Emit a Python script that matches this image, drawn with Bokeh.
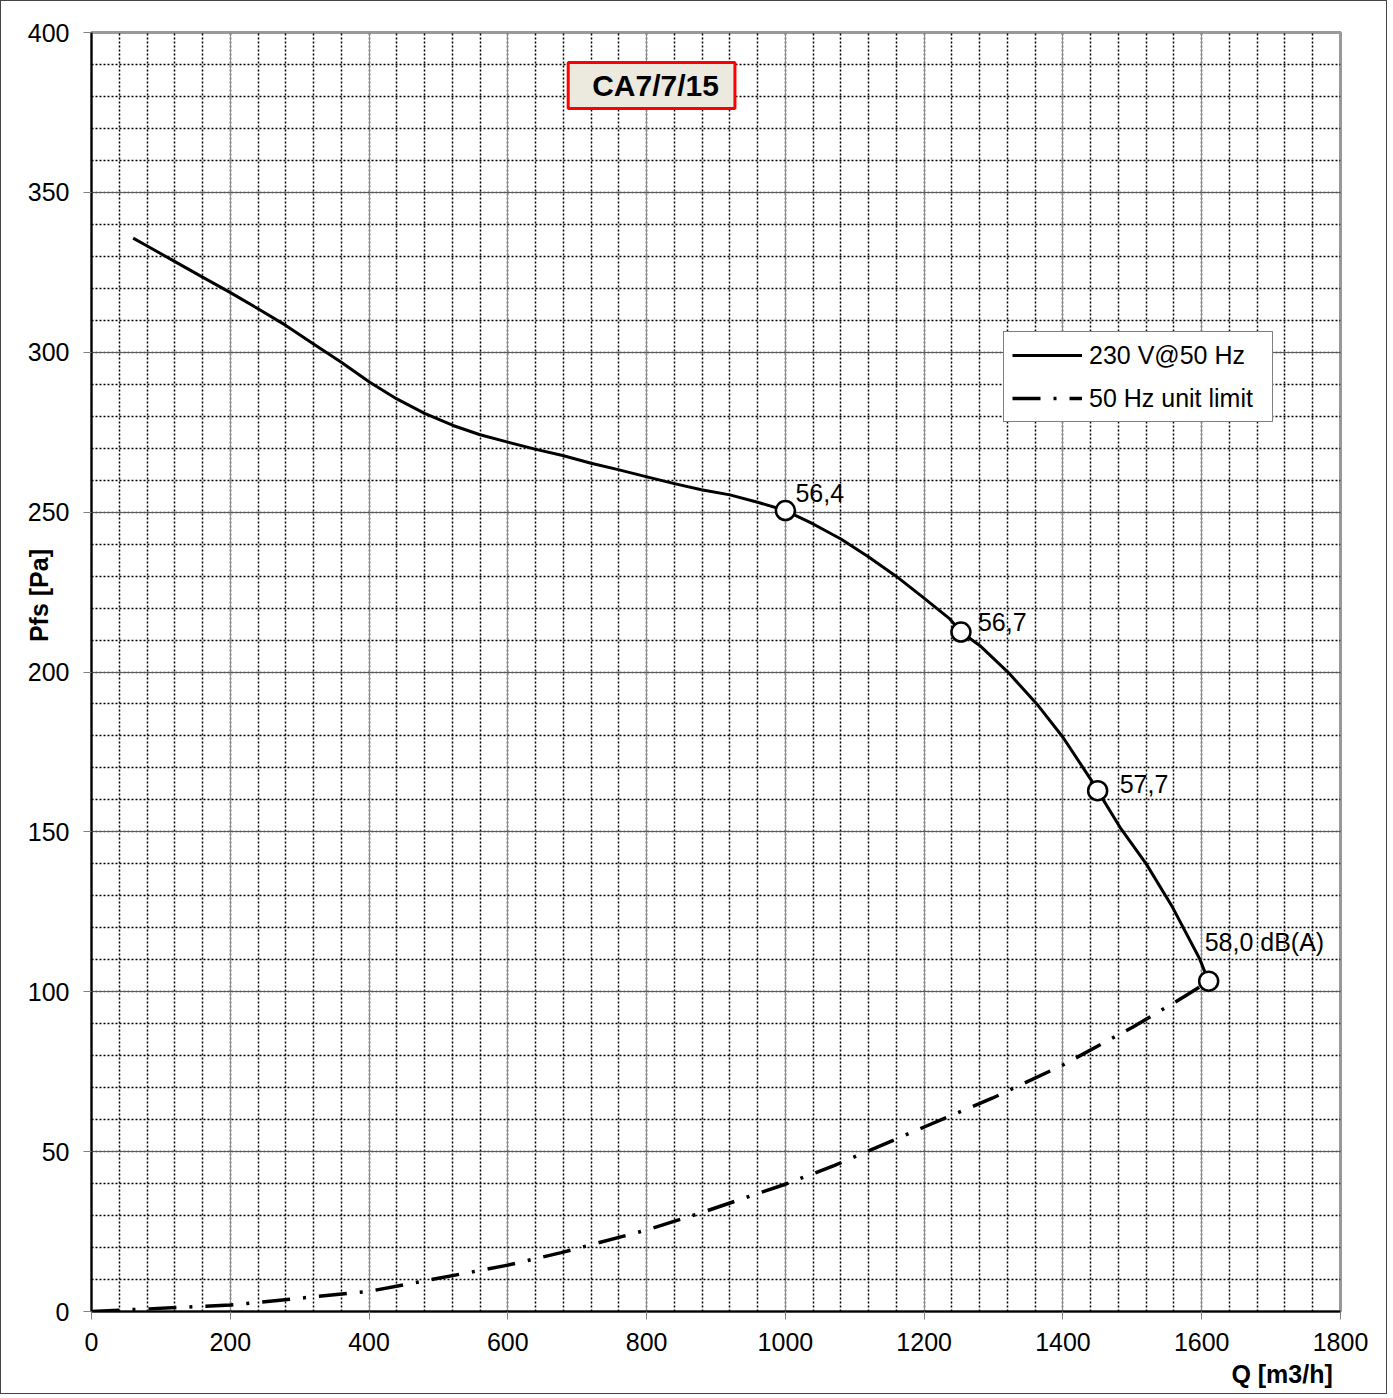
from bokeh.plotting import figure
from bokeh.models import (ColumnDataSource, SingleIntervalTicker, Label, Legend,
                          LegendItem, Range1d)
from bokeh.core.properties import value
from bokeh.embed import file_html
from bokeh.resources import INLINE

# ---- data -------------------------------------------------------------
curve_q = [60, 79, 119, 160, 199, 240, 280, 320, 360, 401, 440, 480, 521,
           560, 600, 639, 679, 720, 759, 799, 840, 879, 920, 960, 1000,
           1040, 1080, 1119, 1160, 1198, 1237, 1253, 1280, 1321, 1362, 1400,
           1441, 1450, 1482, 1520, 1558, 1597, 1610]
curve_p = [335.7, 333.4, 328.5, 323.5, 318.8, 313.6, 308.4, 302.6, 296.9,
           290.6, 285.4, 280.9, 277.1, 274.2, 271.9, 269.7, 267.7, 265.3,
           263.3, 261.1, 258.9, 257.0, 255.4, 253.1, 250.5, 246.3, 241.6,
           236.1, 229.9, 223.4, 216.6, 212.5, 208.3, 199.9, 190.1, 179.6,
           166.1, 162.9, 151.5, 140.0, 126.4, 110.3, 103.3]

limit_q = [0, 200, 400, 600, 677, 800, 879, 960, 1000, 1071, 1200, 1298,
           1400, 1501, 1575, 1610]
limit_p = [0, 2.0, 6.3, 14.5, 18.4, 25.5, 30.9, 36.9, 39.8, 45.7, 57.7, 66.7,
           77.1, 89, 98.5, 103.3]

point_q = [1000, 1253, 1450, 1610]
point_p = [250.5, 212.5, 162.9, 103.3]
point_labels = ["56,4", "56,7", "57,7", "58,0 dB(A)"]

series_names = ["230 V@50 Hz", "50 Hz unit limit"]
title_text = "CA7/7/15"
x_title = "Q [m3/h]"
y_title = "Pfs [Pa]"

FONT = "Liberation Sans"
NBSP = "\u00a0"

# ---- figure -----------------------------------------------------------
LEFT, TOP, RIGHT, BOTTOM = 90, 31, 46, 82
FW, FH = 1249, 1279

p = figure(frame_width=FW, frame_height=FH,
           min_border_left=LEFT, min_border_top=TOP,
           min_border_right=RIGHT, min_border_bottom=BOTTOM,
           x_range=Range1d(0, 1800), y_range=Range1d(0, 400),
           output_backend="svg", toolbar_location=None)
p.styles = {"border": "1px solid #444444"}
p.background_fill_color = "white"
p.border_fill_color = "white"
p.outline_line_color = "#999999"
p.outline_line_width = 3

xt = SingleIntervalTicker(interval=200, num_minor_ticks=5)
yt = SingleIntervalTicker(interval=50, num_minor_ticks=5)
p.xaxis.ticker = xt
p.yaxis.ticker = yt
p.xgrid.ticker = xt
p.ygrid.ticker = yt

for ax in (p.xaxis, p.yaxis):
    ax.axis_line_color = "black"
    ax.axis_line_width = 2
    ax.major_tick_line_color = "#808080"
    ax.major_tick_out = 8
    ax.major_tick_in = 0
    ax.minor_tick_line_color = None
    ax.major_label_text_font = FONT
    ax.major_label_text_font_size = "25px"
    ax.major_label_text_color = "black"
    ax.axis_label_text_font = FONT
    ax.axis_label_text_font_size = "25px"
    ax.axis_label_text_font_style = "bold"
    ax.axis_label_text_color = "black"
p.yaxis.major_label_standoff = 14
p.xaxis.major_label_standoff = 13

# axis titles (leading non-breaking spaces shift the centred title into place)
xa = p.xaxis[0]
ya = p.yaxis[0]
xa.axis_label = NBSP * 163 + x_title
xa.axis_label_standoff = 6
ya.axis_label = NBSP * 22 + y_title
ya.axis_label_standoff = -28

p.xgrid.grid_line_color = "#8c8c8c"
p.ygrid.grid_line_color = "#5a5a5a"
for g in (p.xgrid, p.ygrid):
    g.grid_line_width = 1
    g.minor_grid_line_color = "black"
    g.minor_grid_line_width = 1.5
    g.minor_grid_line_dash = "2 2"

# ---- series -----------------------------------------------------------
r_limit = p.line(limit_q, limit_p, line_color="black", line_width=3.5,
                 line_dash="28 13 3 13")
r_curve = p.line(curve_q, curve_p, line_color="black", line_width=3,
                 line_join="round")
p.scatter(point_q, point_p, marker="circle", size=19, fill_color="white",
          line_color="black", line_width=2.5)

lab_src = ColumnDataSource(dict(q=point_q, p=point_p, t=point_labels,
                                dx=[10, 17, 22, -4], dy=[-18, -10, -7, -39]))
p.text(x="q", y="p", text="t", x_offset="dx", y_offset="dy", source=lab_src,
       text_font=value(FONT), text_font_size=value("25px"),
       text_color="black", text_align="left", text_baseline="alphabetic")

legend = Legend(items=[LegendItem(label=series_names[0], renderers=[r_curve]),
                       LegendItem(label=series_names[1], renderers=[r_limit])],
                location=(912, 889))
legend.label_text_font = FONT
legend.label_text_font_size = "25px"
legend.label_text_color = "black"
legend.label_standoff = 7
legend.label_width = 175
legend.glyph_width = 70
legend.glyph_height = 30
legend.label_height = 30
legend.spacing = 13
legend.padding = 8
legend.margin = 0
legend.border_line_color = "black"
legend.border_line_width = 1.5
legend.background_fill_color = "white"
legend.background_fill_alpha = 1
p.add_layout(legend)

# ---- title box ----------------------------------------------------------
p.add_layout(Label(x=687, y=383.4, text=title_text, text_align="left",
                   text_baseline="middle", text_font=FONT,
                   text_font_size="30px", text_font_style="bold",
                   text_color="black",
                   background_fill_color="#ECE9DF",
                   border_line_color="#FF0000", border_line_width=3,
                   padding=dict(left=24, right=16, top=6, bottom=7)))

open("out.html", "w").write(file_html(p, INLINE))
